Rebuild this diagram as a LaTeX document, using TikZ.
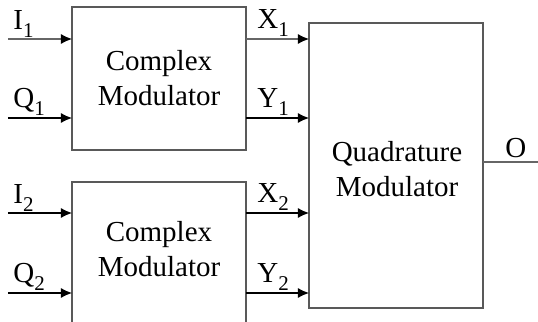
\documentclass[tikz,border=0pt]{standalone}
\usepackage{fontspec}
\setmainfont{Liberation Serif}
\usetikzlibrary{arrows.meta}
\newcommand\mysub[1]{\raisebox{-0.28em}{\fontsize{10.5}{12}\selectfont #1}}
\begin{document}
\begin{tikzpicture}[x=0.5pt,y=-0.5pt,
  blk/.style={draw=black!65, line width=0.6pt, inner sep=0pt},
  sig/.style={draw=black, line width=0.6pt, -{Latex[length=5.5pt,width=5pt,color=black]}},
  lbl/.style={anchor=base west, inner sep=0pt, font=\fontsize{14.5}{17.5}\selectfont},
  txt/.style={align=center, inner sep=0pt, font=\fontsize{14.5}{17.5}\selectfont}]
\useasboundingbox (0,0) rectangle (538,322);
\clip (0,0) rectangle (538,322);
% blocks
\draw[blk] (72,7) rectangle (246,150);
\draw[blk] (72,182) rectangle (246,340);
\draw[blk] (309,23) rectangle (483,308);
\node[txt] (cm1) at (159,78) {Complex\\Modulator};
\node[txt] (cm2) at (159,249) {Complex\\Modulator};
\node[txt] (qm) at (397,169) {Quadrature\\Modulator};
% connector end points
\coordinate (i1s) at (8,39);   \coordinate (i1e) at (72,39);
\coordinate (q1s) at (8,118);  \coordinate (q1e) at (72,118);
\coordinate (i2s) at (8,213);  \coordinate (i2e) at (72,213);
\coordinate (q2s) at (8,293);  \coordinate (q2e) at (72,293);
\coordinate (x1s) at (246,39); \coordinate (x1e) at (309,39);
\coordinate (y1s) at (246,118);\coordinate (y1e) at (309,118);
\coordinate (x2s) at (246,213);\coordinate (x2e) at (309,213);
\coordinate (y2s) at (246,293);\coordinate (y2e) at (309,293);
\coordinate (os) at (483,162); \coordinate (oe) at (538,162);
\draw[sig, draw=black!60] (i1s) -- (i1e);
\draw[sig] (q1s) -- (q1e);
\draw[sig] (i2s) -- (i2e);
\draw[sig] (q2s) -- (q2e);
\draw[sig, draw=black!60] (x1s) -- (x1e);
\draw[sig] (y1s) -- (y1e);
\draw[sig] (x2s) -- (x2e);
\draw[sig] (y2s) -- (y2e);
\draw[draw=black!60, line width=0.6pt] (os) -- (oe);
% labels
\node[lbl] (li1) at (13,29) {I\mysub{1}};
\node[lbl] (lq1) at (13,107) {Q\mysub{1}};
\node[lbl] (li2) at (13,203) {I\mysub{2}};
\node[lbl] (lq2) at (13,282) {Q\mysub{2}};
\node[lbl] (lx1) at (257,28) {X\mysub{1}};
\node[lbl] (ly1) at (257,107) {Y\mysub{1}};
\node[lbl] (lx2) at (257,202) {X\mysub{2}};
\node[lbl] (ly2) at (257,282) {Y\mysub{2}};
\node[lbl] (lo) at (505,157) {O};
\end{tikzpicture}
\end{document}
